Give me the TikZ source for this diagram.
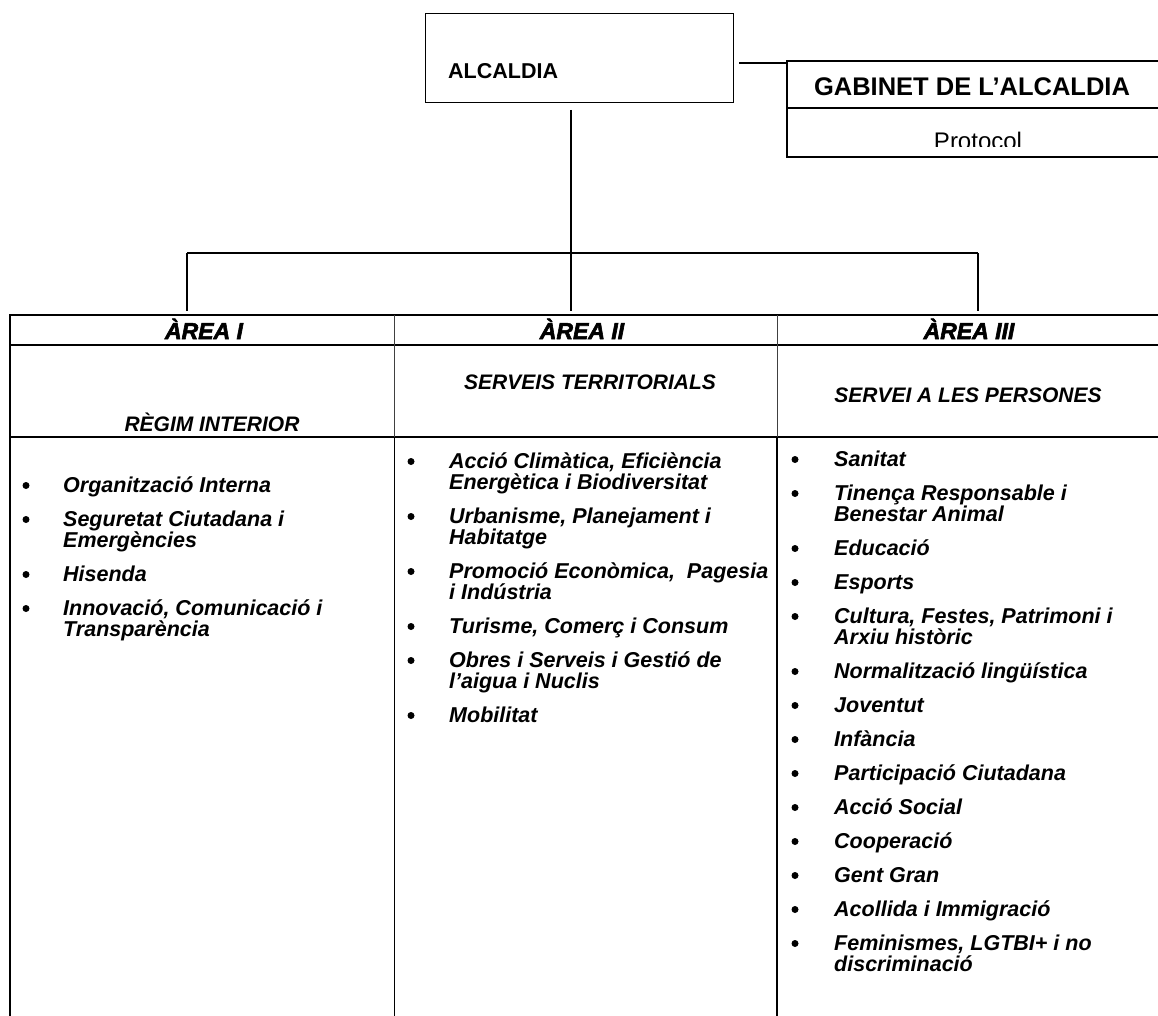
\documentclass[tikz,border=0pt]{standalone}
\usepackage{fontspec}
\setmainfont{Liberation Sans}
\newfontfamily\headfont[FakeBold=2.5]{Liberation Sans}
\begin{document}
\begin{tikzpicture}[x=1pt,y=1pt,
  frame/.style={draw=black, line width=1.4pt},
  conn/.style={draw=black, line width=1.3pt},
  tline/.style={draw=black, line width=1.7pt},
  thinline/.style={draw=black!75, line width=0.8pt},
  itemtext/.style={inner sep=0pt, anchor=base west, font=\fontsize{21.5}{21}\selectfont\bfseries\itshape},
  bul/.style={circle, fill=black, inner sep=0pt, minimum size=7pt},
  head/.style={inner sep=0pt, anchor=base, font=\headfont\fontsize{23}{24}\selectfont\bfseries\itshape},
  sub/.style={inner sep=0pt, anchor=base, font=\fontsize{21}{24}\selectfont\bfseries\itshape},
  plain/.style={inner sep=0pt}
]
\useasboundingbox (0,0) rectangle (1158,-1016);
\fill[white] (0,0) rectangle (1158,-1016);
\clip (0,0) rectangle (1158,-1016);

\newcommand{\blitem}[5]{%
  \node[bul] (#1b) at (#2,-#4+6.5) {};
  \node[itemtext] (#1) at (#3,-#4) {\parbox[t]{330pt}{\raggedright #5}};
}

% ---------- top ----------
\node[frame, rectangle, minimum width=308pt, minimum height=89pt, anchor=north west, inner sep=0pt] (alc) at (425,-13) {};
\node[plain, anchor=base west, font=\fontsize{21.5}{24}\selectfont\bfseries] (alctext) at (448,-79) {ALCALDIA};

% gabinet box (open to the right)
\coordinate (gabNW) at (787,-61);
\coordinate (gabSW) at (787,-157);
\draw[frame] (1170,-61) -- (gabNW) -- (gabSW) -- (1170,-157);
\draw[frame] (787,-108) -- (1170,-108);
\node[plain, anchor=base, font=\fontsize{25.5}{26}\selectfont\bfseries] (gab) at (972,-96) {GABINET DE L'ALCALDIA};
\begin{scope}
  \clip (787,-110) rectangle (1170,-147);
  \node[plain, anchor=base, font=\fontsize{24}{26}\selectfont] (prot) at (978,-150) {Protocol};
\end{scope}

% connectors
\coordinate (alcE) at (739,-63);
\draw[conn] (alcE) -- (gabNW |- alcE);
\coordinate (vtop) at (571,-110);
\coordinate (bus) at (571,-253);
\coordinate (busL) at (187,-253);
\coordinate (busR) at (978,-253);
\coordinate (d1) at (187,-311);
\coordinate (d2) at (571,-311);
\coordinate (d3) at (978,-311);
\draw[conn] (vtop) -- (d2);
\draw[conn] (busL) -- (busR);
\draw[conn] (busL) -- (d1);
\draw[conn] (busR) -- (d3);

% ---------- table ----------
\draw[tline] (10,-315) -- (1170,-315);
\draw[tline] (10,-345) -- (1170,-345);
\draw[tline] (10,-437) -- (1170,-437);
\draw[tline] (10,-314) -- (10,-1030);
\draw[thinline] (394.5,-315) -- (394.5,-437);
\draw[thinline] (777,-315) -- (777,-437);
\draw[tline] (394.5,-437) -- (394.5,-1030);
\draw[tline] (777,-437) -- (777,-1030);

\node[head] (h1) at (204,-339) {ÀREA I};
\node[head] (h2) at (582,-339) {ÀREA II};
\node[head] (h3) at (969,-339) {ÀREA III};

\node[sub] (s1) at (212,-431) {RÈGIM INTERIOR};
\node[sub] (s2) at (590,-389) {SERVEIS TERRITORIALS};
\node[sub] (s3) at (968,-402) {SERVEI A LES PERSONES};

% column 1
\blitem{a1}{26}{63}{492}{Organització Interna}
\blitem{a2}{26}{63}{526}{Seguretat Ciutadana i\\Emergències}
\blitem{a3}{26}{63}{581}{Hisenda}
\blitem{a4}{26}{63}{615}{Innovació, Comunicació i\\Transparència}

% column 2
\blitem{b1}{411}{449}{468}{Acció Climàtica, Eficiència\\Energètica i Biodiversitat}
\blitem{b2}{411}{449}{523}{Urbanisme, Planejament i\\Habitatge}
\blitem{b3}{411}{449}{578}{Promoció Econòmica,\ \ Pagesia\\i Indústria}
\blitem{b4}{411}{449}{633}{Turisme, Comerç i Consum}
\blitem{b5}{411}{449}{667}{Obres i Serveis i Gestió de\\l’aigua i Nuclis}
\blitem{b6}{411}{449}{722}{Mobilitat}

% column 3
\blitem{c1}{795}{834}{466}{Sanitat}
\blitem{c2}{795}{834}{500}{Tinença Responsable i\\Benestar Animal}
\blitem{c3}{795}{834}{555}{Educació}
\blitem{c4}{795}{834}{589}{Esports}
\blitem{c5}{795}{834}{623}{Cultura, Festes, Patrimoni i\\Arxiu històric}
\blitem{c6}{795}{834}{678}{Normalització lingüística}
\blitem{c7}{795}{834}{712}{Joventut}
\blitem{c8}{795}{834}{746}{Infància}
\blitem{c9}{795}{834}{780}{Participació Ciutadana}
\blitem{c10}{795}{834}{814}{Acció Social}
\blitem{c11}{795}{834}{848}{Cooperació}
\blitem{c12}{795}{834}{882}{Gent Gran}
\blitem{c13}{795}{834}{916}{Acollida i Immigració}
\blitem{c14}{795}{834}{950}{Feminismes, LGTBI+ i no\\discriminació}
\end{tikzpicture}
\end{document}
